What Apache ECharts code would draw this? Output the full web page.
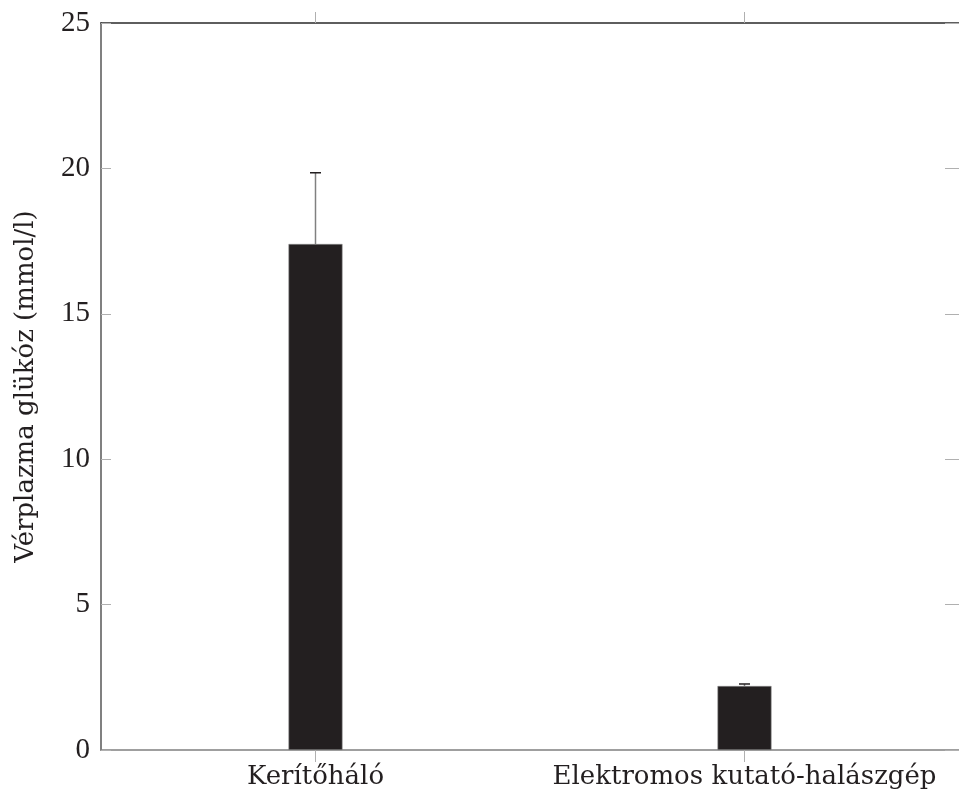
<!DOCTYPE html>
<html><head><meta charset="utf-8">
<script src="https://cdn.jsdelivr.net/npm/echarts@6/dist/echarts.min.js"></script>
<style>html,body{margin:0;padding:0;background:#fff}#c{width:959px;height:801px}</style>
</head><body><div id="c"></div>
<script>
const categories = ['Kerítőháló', 'Elektromos kutató-halászgép'];
const means = [17.4, 2.2];
const errUpper = [19.85, 2.27];
const yTicks = [0, 5, 10, 15, 20, 25];

const chart = echarts.init(document.getElementById('c'), null, {renderer: 'canvas'});
const catFont = '"DejaVu Serif", serif';
const numFont = '"Liberation Serif", serif';
chart.setOption({
  animation: false,
  grid: {left: 101, top: 23, width: 866, height: 727, containLabel: false},
  xAxis: [{
    type: 'category', data: categories, position: 'bottom',
    axisLine: {show: true, onZero: false, lineStyle: {color: '#808080', width: 1.5}},
    axisTick: {show: true, alignWithLabel: true, length: 12, lineStyle: {color: '#b0b0b0', width: 1}},
    axisLabel: {color: '#231f20', fontSize: 26, fontFamily: catFont, margin: 14, interval: 0, hideOverlap: false},
    splitLine: {show: false}
  }, {
    type: 'category', data: categories, position: 'top',
    axisLine: {show: true, onZero: false, lineStyle: {color: '#2a2a2a', width: 1.5}},
    axisTick: {show: true, alignWithLabel: true, length: 11, lineStyle: {color: '#b0b0b0', width: 1}},
    axisLabel: {show: false}, splitLine: {show: false}
  }],
  yAxis: [{
    type: 'value', min: yTicks[0], max: yTicks[yTicks.length - 1], interval: 5,
    name: 'Vérplazma glükóz (mmol/l)', nameLocation: 'middle', nameGap: 62, nameRotate: 90,
    nameTextStyle: {fontSize: 26, fontFamily: catFont, color: '#231f20'},
    axisLine: {show: true, onZero: false, lineStyle: {color: '#808080', width: 2}},
    axisTick: {show: true, inside: true, length: 10, lineStyle: {color: '#b0b0b0'}},
    axisLabel: {color: '#231f20', fontSize: 29, fontFamily: numFont, margin: 11},
    splitLine: {show: false}
  }, {
    type: 'value', min: yTicks[0], max: yTicks[yTicks.length - 1], interval: 5, position: 'right',
    axisLine: {show: false},
    axisTick: {show: true, inside: true, length: 14, lineStyle: {color: '#b0b0b0'}},
    axisLabel: {show: false}, splitLine: {show: false}
  }],
  series: [{
    type: 'bar', data: means, barWidth: 54, xAxisIndex: 0, yAxisIndex: 0,
    itemStyle: {color: '#231f20', borderColor: '#8a8a8a', borderWidth: 0.6},
    z: 2
  }, {
    type: 'custom', xAxisIndex: 0, yAxisIndex: 0, z: 3,
    data: categories.map((c, i) => [i, means[i], errUpper[i]]),
    renderItem: function (params, api) {
      const x = api.coord([api.value(0), api.value(1)])[0];
      const y0 = api.coord([api.value(0), api.value(1)])[1];
      const y1 = api.coord([api.value(0), api.value(2)])[1];
      return {type: 'group', children: [
        {type: 'line', shape: {x1: x, y1: y0, x2: x, y2: y1}, style: {stroke: '#808080', lineWidth: 1.5}},
        {type: 'line', shape: {x1: x - 5.5, y1: y1, x2: x + 5.5, y2: y1}, style: {stroke: '#231f20', lineWidth: 1.5}}
      ]};
    }
  }]
});
</script></body></html>
